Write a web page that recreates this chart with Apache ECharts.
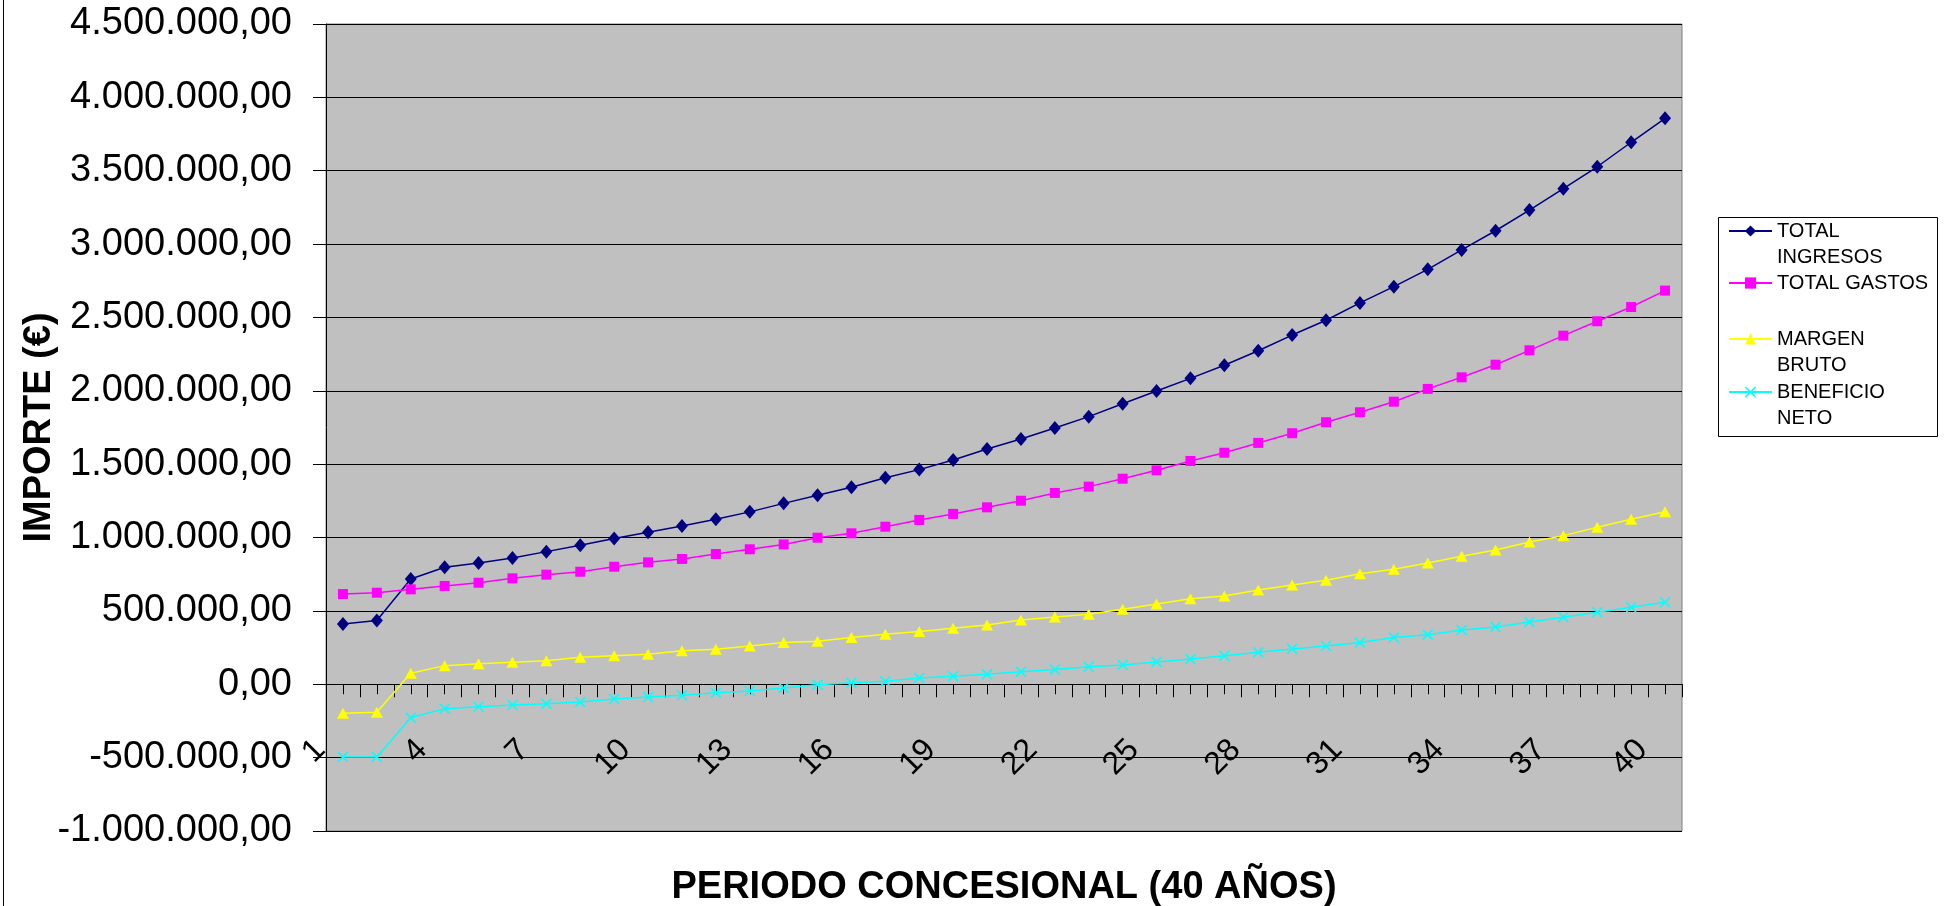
<!DOCTYPE html>
<html>
<head>
<meta charset="utf-8">
<script src="https://cdn.jsdelivr.net/npm/echarts@6/dist/echarts.min.js"></script>
<style>
  html, body { margin: 0; padding: 0; background: #ffffff; }
  #chart { width: 1944px; height: 906px; }
</style>
</head>
<body>
<div id="chart"></div>
<script>
// Concession years 1..40
const years = Array.from({ length: 40 }, (_, i) => String(i + 1));

// Yearly amounts in euros
const totalIngresos = [
  411000, 434000, 718000, 798000, 827000, 861000, 904000, 947000, 993000, 1036000,
  1079000, 1125000, 1175000, 1233000, 1288000, 1343000, 1408000, 1463000, 1529000, 1604000,
  1672000, 1747000, 1824000, 1912000, 1999000, 2085000, 2174000, 2273000, 2380000, 2481000,
  2599000, 2710000, 2828000, 2960000, 3091000, 3232000, 3378000, 3527000, 3694000, 3857000
];
const totalGastos = [
  615000, 624000, 647000, 670000, 692000, 722000, 747000, 767000, 801000, 831000,
  854000, 888000, 920000, 953000, 999000, 1029000, 1074000, 1120000, 1161000, 1206000,
  1251000, 1304000, 1347000, 1401000, 1458000, 1522000, 1578000, 1645000, 1711000, 1786000,
  1854000, 1926000, 2013000, 2092000, 2178000, 2276000, 2376000, 2474000, 2571000, 2683000
];
const margenBruto = [
  -198000, -191000, 75000, 127000, 140000, 150000, 161000, 184000, 195000, 204000,
  229000, 239000, 261000, 284000, 293000, 318000, 341000, 359000, 382000, 404000,
  438000, 459000, 477000, 511000, 547000, 583000, 602000, 643000, 677000, 709000,
  754000, 784000, 827000, 872000, 915000, 970000, 1013000, 1070000, 1124000, 1176000
];
const beneficioNeto = [
  -495000, -495000, -228000, -166000, -153000, -141000, -132000, -121000, -100000, -87000,
  -75000, -57000, -46000, -25000, -3000, 11000, 20000, 43000, 55000, 68000,
  86000, 100000, 120000, 132000, 152000, 172000, 195000, 218000, 241000, 261000,
  284000, 318000, 338000, 370000, 391000, 425000, 457000, 491000, 525000, 559000
];

const seriesNames = ['TOTAL INGRESOS', 'TOTAL GASTOS', 'MARGEN BRUTO', 'BENEFICIO NETO'];
// a leading empty line keeps the marker level with the first line of two-line entries
const legendTexts = ['\nTOTAL\nINGRESOS', 'TOTAL GASTOS', '\nMARGEN\nBRUTO', '\nBENEFICIO\nNETO'];

// Value axis range
const yMin = -1000000, yMax = 4500000, yStep = 500000;

const FONT = "'Liberation Sans', Arial, sans-serif";

// 1.234.567,00 style number
function euroFormat(v) {
  const neg = v < 0;
  const s = Math.abs(Math.round(v)).toString().replace(/\B(?=(\d{3})+(?!\d))/g, '.');
  return (neg ? '-' : '') + s + ',00';
}

// filled "x" marker
const crossPath = 'path://M0,1L1,0L5,4L9,0L10,1L6,5L10,9L9,10L5,6L1,10L0,9L4,5Z';

const plotRect = { left: 326, top: 24, width: 1356, height: 807 };
// lift the category axis from the bottom edge up to the value 0
const zeroOffset = -((0 - yMin) / (yMax - yMin)) * plotRect.height;

const chart = echarts.init(document.getElementById('chart'), null, { renderer: 'canvas' });

function legendFor(idx, top) {
  return {
    data: [seriesNames[idx]],
    orient: 'vertical',
    left: 1728,
    top: top,
    padding: 0,
    itemWidth: 43,
    itemHeight: 14,
    itemGap: 5,
    selectedMode: false,
    formatter: () => legendTexts[idx],
    textStyle: {
      fontFamily: FONT,
      fontSize: 20,
      color: '#000',
      lineHeight: 26
    }
  };
}

const option = {
  animation: false,
  backgroundColor: '#ffffff',
  textStyle: { fontFamily: FONT },
  grid: [
    Object.assign({
      show: true,
      backgroundColor: '#C0C0C0',
      borderColor: '#808080',
      borderWidth: 1,
      containLabel: false,
      outerBoundsMode: 'none'
    }, plotRect),
    // overlay grid carrying the ticks at category centres
    Object.assign({ show: false, containLabel: false, outerBoundsMode: 'none' }, plotRect)
  ],
  legend: [
    legendFor(0, 192),
    legendFor(1, 270),
    legendFor(2, 300),
    legendFor(3, 353)
  ],
  graphic: [
    {
      type: 'rect', z: -1, silent: true,
      shape: { x: 1718.5, y: 217.5, width: 219, height: 219 },
      style: { fill: '#ffffff', stroke: '#000000', lineWidth: 1 }
    },
    {
      type: 'line', silent: true,
      shape: { x1: 3.5, y1: 0, x2: 3.5, y2: 906 },
      style: { stroke: '#000000', lineWidth: 1 }
    }
  ],
  xAxis: [
    {
      type: 'category',
      gridIndex: 0,
      data: years,
      boundaryGap: true,
      position: 'bottom',
      offset: zeroOffset,
      name: 'PERIODO CONCESIONAL (40 AÑOS)',
      nameLocation: 'middle',
      nameGap: 184,
      nameMoveOverlap: false,
      nameTextStyle: { fontFamily: FONT, fontSize: 38, fontWeight: 'bold', color: '#000' },
      axisLine: { show: true, onZero: false, lineStyle: { color: '#000', width: 1 } },
      axisTick: { show: true, interval: 0, length: 13, lineStyle: { color: '#000', width: 1 } },
      axisLabel: {
        interval: 2,
        rotate: 45,
        margin: 38,
        padding: [0, 32, 0, 0],
        fontFamily: FONT,
        fontSize: 32,
        color: '#000'
      },
      splitLine: { show: false }
    },
    {
      type: 'category',
      gridIndex: 1,
      data: years,
      boundaryGap: true,
      axisLine: { show: false, onZero: true },
      axisTick: { show: true, interval: 0, alignWithLabel: true, length: 10, lineStyle: { color: '#000', width: 1 } },
      axisLabel: { show: false },
      splitLine: { show: false }
    }
  ],
  yAxis: [
    {
      type: 'value',
      gridIndex: 0,
      min: yMin,
      max: yMax,
      interval: yStep,
      name: 'IMPORTE (€)',
      nameLocation: 'middle',
      nameRotate: 90,
      nameGap: 267,
      nameMoveOverlap: false,
      nameTextStyle: { fontFamily: FONT, fontSize: 38, fontWeight: 'bold', color: '#000' },
      axisLine: { show: true, lineStyle: { color: '#000', width: 1 } },
      axisTick: { show: true, length: 13, lineStyle: { color: '#000', width: 1 } },
      axisLabel: {
        margin: 34,
        fontFamily: FONT,
        fontSize: 38,
        color: '#000',
        formatter: euroFormat
      },
      splitLine: { show: true, lineStyle: { color: '#000', width: 1 } }
    },
    {
      type: 'value',
      gridIndex: 1,
      min: yMin,
      max: yMax,
      interval: yStep,
      axisLine: { show: false },
      axisTick: { show: false },
      axisLabel: { show: false },
      splitLine: { show: false }
    }
  ],
  series: [
    {
      name: seriesNames[0], type: 'line', data: totalIngresos, xAxisIndex: 0, yAxisIndex: 0,
      symbol: 'diamond', symbolSize: [12, 14],
      lineStyle: { color: '#000080', width: 1.5 },
      itemStyle: { color: '#000080' }
    },
    {
      name: seriesNames[1], type: 'line', data: totalGastos, xAxisIndex: 0, yAxisIndex: 0,
      symbol: 'rect', symbolSize: 10,
      lineStyle: { color: '#FF00FF', width: 1.5 },
      itemStyle: { color: '#FF00FF' }
    },
    {
      name: seriesNames[2], type: 'line', data: margenBruto, xAxisIndex: 0, yAxisIndex: 0,
      symbol: 'triangle', symbolSize: [12, 11],
      lineStyle: { color: '#FFFF00', width: 1.5 },
      itemStyle: { color: '#FFFF00' }
    },
    {
      name: seriesNames[3], type: 'line', data: beneficioNeto, xAxisIndex: 0, yAxisIndex: 0,
      symbol: crossPath, symbolSize: 11,
      lineStyle: { color: '#00FFFF', width: 1.5 },
      itemStyle: { color: '#00FFFF' }
    }
  ]
};

chart.setOption(option);
</script>
</body>
</html>
